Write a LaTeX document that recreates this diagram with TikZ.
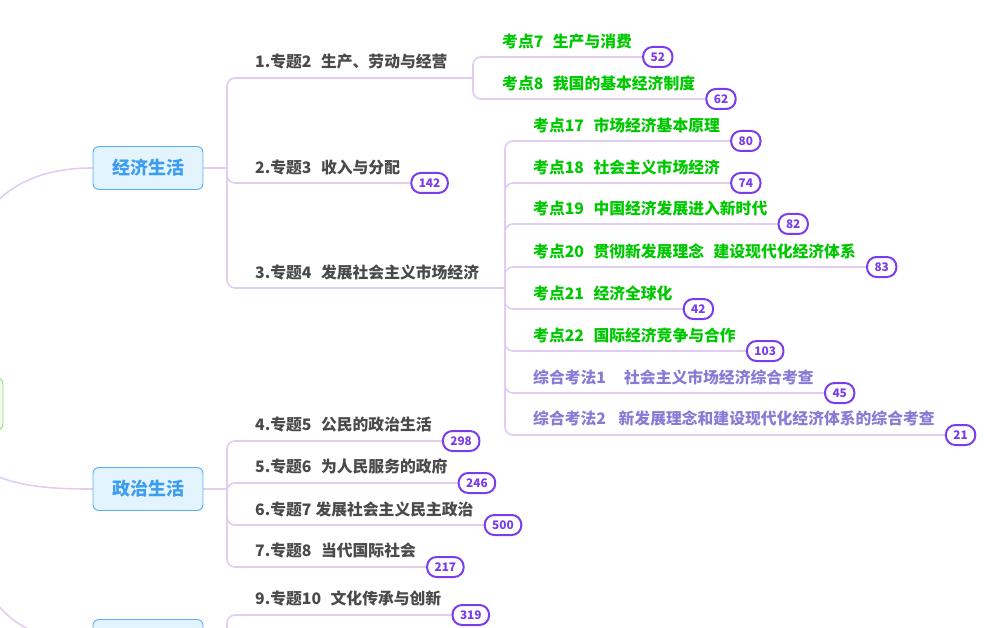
\documentclass[tikz,border=0pt]{standalone}
\usepackage{fontspec}
\setmainfont{Noto Sans CJK SC}
\usepackage{xcolor}
\usepackage{tikz}
\usetikzlibrary{calc,backgrounds}
\definecolor{lnk}{HTML}{E1CCF2}
\definecolor{hubfill}{HTML}{E4F4FF}
\definecolor{hubdraw}{HTML}{5AAEFA}
\definecolor{hubtext}{HTML}{3C9CF0}
\definecolor{rootdraw}{HTML}{8EE27A}
\definecolor{rootfill}{HTML}{F1FCEE}
\definecolor{ink}{HTML}{4A4A4A}
\definecolor{kpgreen}{HTML}{00C800}
\definecolor{zhpurple}{HTML}{8A7AD6}
\definecolor{badge}{HTML}{7A3CEC}
\tikzset{
  link/.style={draw=lnk, line width=1.6pt, line cap=round, line join=round},
  fork/.style={link, rounded corners=8pt},
  hub/.style={draw=hubdraw, fill=hubfill, line width=0.9pt, rounded corners=6pt, minimum width=110pt, minimum height=43pt, text=hubtext, font=\fontsize{18}{20}\selectfont\bfseries},
  root/.style={draw=rootdraw, fill=rootfill, line width=0.9pt, rounded corners=6pt, minimum width=126pt, minimum height=52pt},
  topic/.style={anchor=west, inner sep=0pt, text=ink, font=\fontsize{15.8}{18}\selectfont\bfseries},
  kp/.style={topic, text=kpgreen},
  zh/.style={topic, text=zhpurple},
  cnt/.style={draw=badge, fill=white, line width=2pt, rounded corners=9.5pt, minimum width=29pt, minimum height=20pt, inner xsep=7.5pt, inner ysep=0pt, anchor=west, text=badge, font=\fontsize{11.8}{13}\selectfont\bfseries},
}

\begin{document}
\begin{tikzpicture}[x=1pt, y=-1pt]
  \useasboundingbox (0,0) rectangle (1008,628);
  % centre and the three fields
  \node[root] (root) at (-60,404) {};
  \node[hub] (econ) at (148,168) {经济生活};
  \node[hub] (pol) at (148,489) {政治生活};
  \node[hub] (cult) at (148,641) {};
  \coordinate (econJ) at (227,168);
  \coordinate (polJ) at (227,489);
  \coordinate (cultJ) at (227,641);

  % economy
  \node[topic] (t1) at (255,62) {1.专题2\hspace{0.6em}生产、劳动与经营};
  \coordinate (j1) at (473,78);
  \node[topic] (t2) at (255,167) {2.专题3\hspace{0.6em}收入与分配};
  \node[cnt] (c2) at ($(t2.east)+(10,16)$) {142};
  \node[topic] (t3) at (255,272) {3.专题4\hspace{0.6em}发展社会主义市场经济};
  \coordinate (j3) at (505,288);

  \node[kp] (k7) at (502,42) {考点7\hspace{0.6em}生产与消费};
  \node[cnt] (c7) at ($(k7.east)+(10,15)$) {52};
  \node[kp] (k8) at (502,83) {考点8\hspace{0.6em}我国的基本经济制度};
  \node[cnt] (c8) at ($(k8.east)+(10,16)$) {62};

  \node[kp] (k17) at (533,125) {考点17\hspace{0.6em}市场经济基本原理};
  \node[cnt] (c17) at ($(k17.east)+(10,16)$) {80};
  \node[kp] (k18) at (533,167) {考点18\hspace{0.6em}社会主义市场经济};
  \node[cnt] (c18) at ($(k18.east)+(10,16)$) {74};
  \node[kp] (k19) at (533,208) {考点19\hspace{0.6em}中国经济发展进入新时代};
  \node[cnt] (c19) at ($(k19.east)+(10,16)$) {82};
  \node[kp] (k20) at (533,251) {考点20\hspace{0.6em}贯彻新发展理念\hspace{0.6em}建设现代化经济体系};
  \node[cnt] (c20) at ($(k20.east)+(10,16)$) {83};
  \node[kp] (k21) at (533,293) {考点21\hspace{0.6em}经济全球化};
  \node[cnt] (c21) at ($(k21.east)+(10,16)$) {42};
  \node[kp] (k22) at (533,335) {考点22\hspace{0.6em}国际经济竞争与合作};
  \node[cnt] (c22) at ($(k22.east)+(10,16)$) {103};
  \node[zh] (z1) at (533,377) {综合考法1\hspace{1.15em}社会主义市场经济综合考查};
  \node[cnt] (cz1) at ($(z1.east)+(10,16)$) {45};
  \node[zh] (z2) at (533,418) {综合考法2\hspace{0.8em}新发展理念和建设现代化经济体系的综合考查};
  \node[cnt] (cz2) at ($(z2.east)+(10,17)$) {21};

  % politics
  \node[topic] (t4) at (255,424) {4.专题5\hspace{0.6em}公民的政治生活};
  \node[cnt] (c4) at ($(t4.east)+(10,17)$) {298};
  \node[topic] (t5) at (255,466) {5.专题6\hspace{0.6em}为人民服务的政府};
  \node[cnt] (c5) at ($(t5.east)+(10,17)$) {246};
  \node[topic] (t6) at (255,509) {6.专题7\hspace{0.25em}发展社会主义民主政治};
  \node[cnt] (c6) at ($(t6.east)+(10,16)$) {500};
  \node[topic] (t7) at (255,550) {7.专题8\hspace{0.6em}当代国际社会};
  \node[cnt] (c7b) at ($(t7.east)+(10,17)$) {217};

  % culture
  \node[topic] (t9) at (255,598) {9.专题10\hspace{0.6em}文化传承与创新};
  \node[cnt] (c9) at ($(t9.east)+(10,17)$) {319};

  \begin{pgfonlayer}{background}
    \draw[link] (root.center) .. controls (-60,200) and (20,168) .. (econ.west);
    \draw[link] (root.center) .. controls (-45,485) and (30,489) .. (pol.west);
    \draw[link] (root.center) .. controls (-40,620) and (20,641) .. (cult.west);

    \draw[link] (econ.east) -- (econJ);
    \draw[fork] (econJ) |- (j1);
    \draw[fork] (econJ) |- (c2.west);
    \draw[fork] (econJ) |- (j3);
    \draw[fork] (j1) |- (c7.west);
    \draw[fork] (j1) |- (c8.west);
    \draw[fork] (j3) |- (c17.west);
    \draw[fork] (j3) |- (c18.west);
    \draw[fork] (j3) |- (c19.west);
    \draw[fork] (j3) |- (c20.west);
    \draw[fork] (j3) |- (c21.west);
    \draw[fork] (j3) |- (c22.west);
    \draw[fork] (j3) |- (cz1.west);
    \draw[fork] (j3) |- (cz2.west);

    \draw[link] (pol.east) -- (polJ);
    \draw[fork] (polJ) |- (c4.west);
    \draw[fork] (polJ) |- (c5.west);
    \draw[fork] (polJ) |- (c6.west);
    \draw[fork] (polJ) |- (c7b.west);

    \draw[link] (cult.east) -- (cultJ);
    \draw[fork] (cultJ) |- (c9.west);
  \end{pgfonlayer}
\end{tikzpicture}
\end{document}
